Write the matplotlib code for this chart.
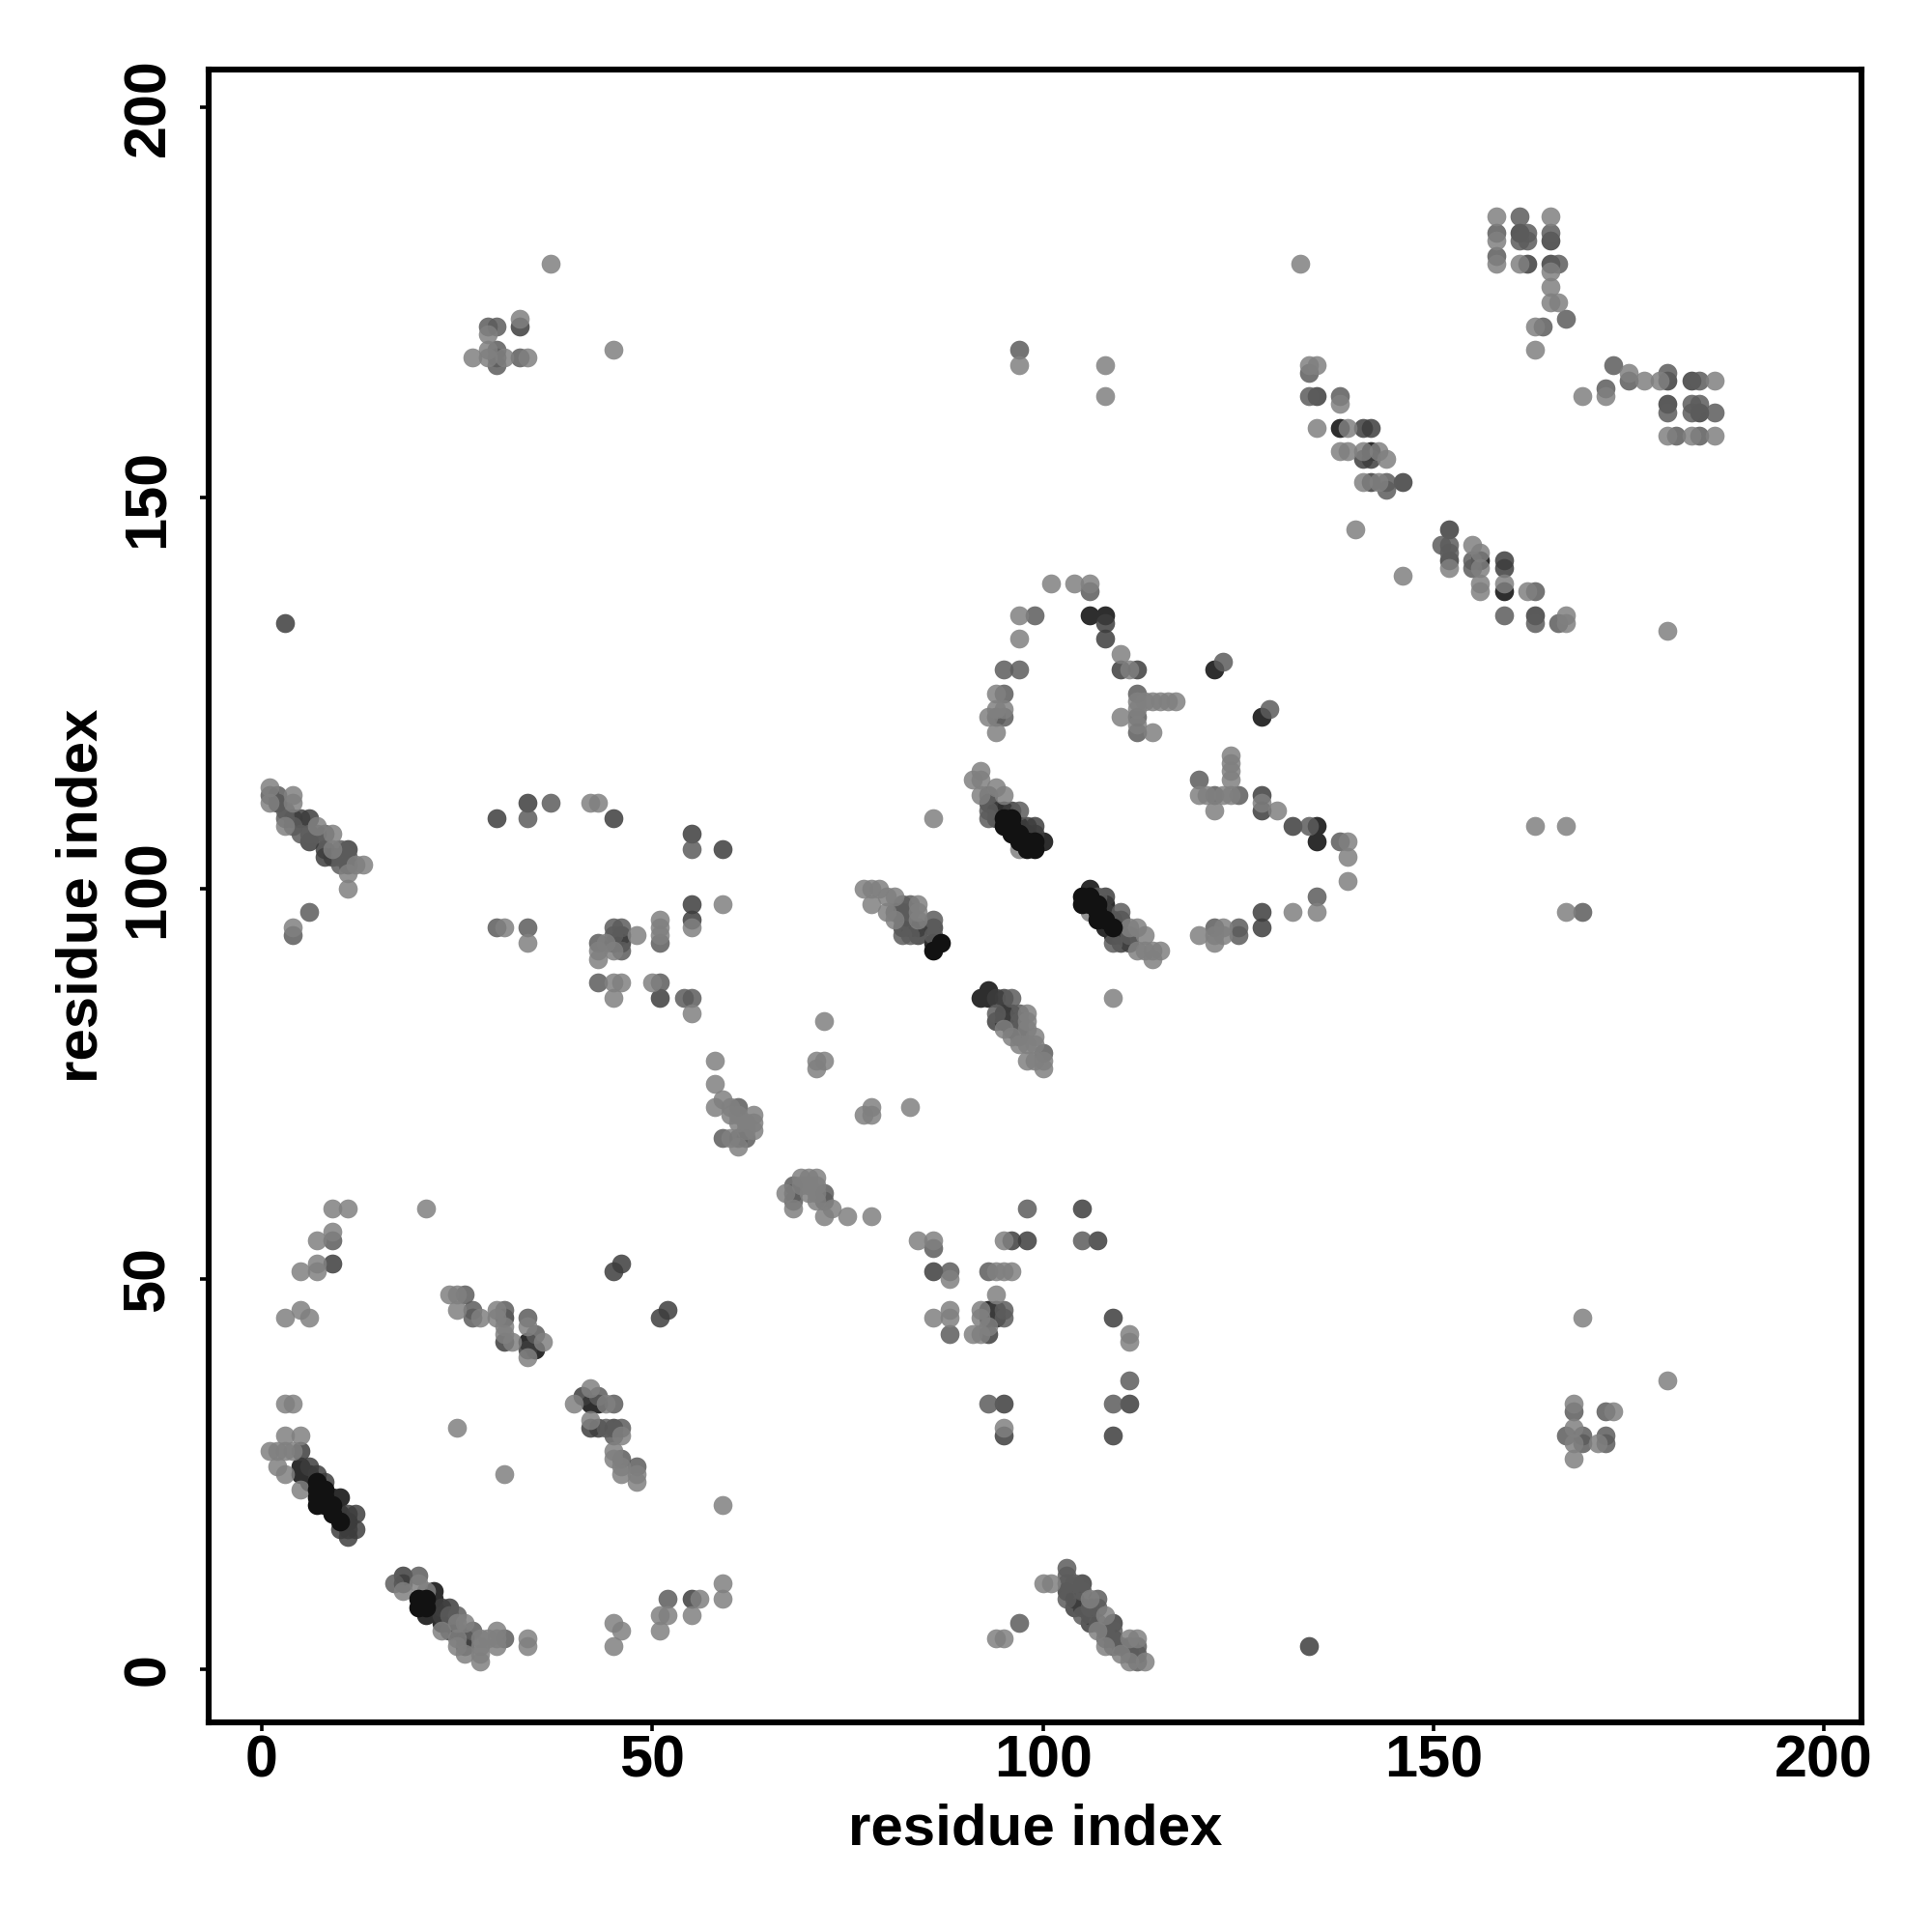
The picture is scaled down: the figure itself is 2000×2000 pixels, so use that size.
import matplotlib
matplotlib.use('Agg')
import matplotlib.pyplot as plt

# contacts (residue i, residue j) grouped by how dark they print
light = [(1,28),(2,28),(3,28),(4,28),(2,26),(3,25),(5,23),(4,34),(3,34),(3,30),(5,30),
         (9,59),(11,59),(21,59),(9,56),(7,55),(7,52),(7,51),(5,51),(5,46),(3,45),(6,45),
         (24,48),(25,48),(25,46),(28,45),(30,46),(30,45),(31,44),(31,43),(32,42),(34,44),(36,42),(34,40),
         (40,34),(42,36),(44,34),(42,32),(46,30),(45,28),(45,27),(46,26),(46,25),(48,25),(48,24),(25,31),(31,25),(59,21),
         (18,10),(20,11),(21,10),(25,6),(26,6),(23,5),(25,4),(25,3),(28,4),(28,3),(28,2),(26,2),(28,1),
         (30,5),(30,4),(30,3),(29,4),(34,4),(34,3),(45,6),(46,5),(45,3),(51,5),(51,7),(52,7),(55,7),(56,9),(59,11),(59,9),
         (42,111),(43,111),(55,95),(31,95),(34,93),(4,95),(43,92),(43,91),(44,93),(45,92),(48,94),(51,96),(51,95),(51,94),
         (45,88),(46,88),(45,86),(50,88),(55,84),(1,113),(1,111),(4,112),(4,111),(3,108),(7,108),(9,107),(9,105),
         (12,103),(13,103),(11,102),(11,100),(59,98),
         (58,78),(58,75),(59,73),(58,72),(60,72),(60,71),(61,71),(63,71),(63,70),(62,70),(61,70),(62,69),(63,69),(60,68),(61,67),
         (77,100),(78,100),(79,100),(78,98),(80,99),(81,99),(80,97),(81,96),(84,98),(84,97),(84,96),
         (91,114),(92,115),(92,114),(92,112),(94,113),(95,112),(97,105),
         (106,97),(111,95),(112,95),(113,94),(112,92),(114,92),(115,92),(114,91),(113,92),
         (95,82),(98,84),(98,83),(98,82),(96,81),(99,81),(97,80),(98,80),(99,80),(98,78),(99,78),(100,78),(100,77),
         (72,83),(71,78),(72,78),(71,77),(78,72),(77,71),(78,71),(83,72),(86,109),(109,86),
         (67,61),(68,59),(69,63),(70,63),(71,63),(69,62),(70,62),(71,62),(70,61),(71,61),(71,60),(73,59),(72,58),(75,58),(78,58),
         (84,55),(86,55),(88,50),(86,45),(88,46),(88,45),(95,55),(94,51),(95,51),(96,51),(94,48),(92,46),(92,45),(93,44),(91,43),(92,43),
         (111,43),(111,42),(95,31),(100,11),(101,11),(106,9),(108,7),(107,5),(108,3),(111,4),(112,4),(110,2),(111,1),(113,1),(94,4),(95,4),
         (101,139),(104,139),(106,139),(97,135),(97,132),(110,130),(111,128),(94,125),(94,123),(95,123),(93,122),(94,120),
         (112,124),(113,124),(114,124),(115,124),(116,124),(117,124),(112,123),(110,122),(112,121),(114,120),
         (124,117),(124,116),(124,115),(124,114),(120,112),(121,112),(123,112),(124,112),(122,110),(128,111),(130,110),(139,106),
         (139,104),(139,101),(135,97),(132,97),(120,94),(123,95),(122,94),(123,94),(122,93),
         (133,180),(158,186),(165,186),(158,183),(158,180),(161,180),(165,179),(165,177),(165,175),(166,175),(163,172),(163,169),
         (134,167),(135,167),(138,162),(135,159),(139,159),(138,156),(139,156),(141,156),(143,156),(144,155),(141,152),(143,152),
         (140,146),(146,140),(152,141),(155,144),(156,143),(156,141),(156,139),(156,138),(159,139),(162,138),(167,135),(167,134),
         (180,133),(175,166),(177,165),(179,165),(186,165),(172,163),(169,163),(180,158),(183,158),(186,158),
         (37,180),(45,169),(33,173),(29,171),(27,168),(29,169),(29,168),(31,168),(34,168),
         (169,45),(180,37),(168,34),(173,33),(168,31),(168,29),(171,29),(168,27),(97,167),(108,167),(108,163),(163,108),(167,108),(167,97)]
medium = [(9,55),(26,48),(27,46),(27,45),(31,46),(34,45),(35,43),(43,35),(45,34),(44,31),(46,31),(45,30),(46,27),(48,26),
          (17,11),(20,12),(24,7),(25,7),(27,5),(31,4),(52,9),(37,111),(34,109),(55,105),(30,95),(34,95),(6,97),(4,94),
          (43,93),(45,95),(46,95),(45,94),(46,92),(43,88),(51,93),(51,88),(54,86),(55,86),(1,112),(2,112),(3,110),(3,109),(4,108),
          (5,107),(6,107),(7,107),(8,107),(10,105),(11,104),(10,104),(10,103),(61,72),(59,68),(61,68),(62,68),
          (81,97),(82,98),(83,98),(83,97),(82,96),(83,94),(82,94),(86,96),(86,94),
          (93,109),(93,110),(93,112),(97,110),(107,99),(110,97),(111,94),(109,93),
          (96,86),(94,84),(97,84),(97,83),(97,82),(97,81),(100,79),(98,59),
          (68,62),(68,61),(68,60),(72,61),(72,60),(86,54),(88,51),(88,43),(93,51),(95,46),(95,45),(111,37),(93,34),(109,34),
          (103,13),(103,12),(103,11),(104,11),(105,10),(103,9),(107,9),(106,8),(105,7),(107,8),(107,6),(108,5),(109,5),(108,4),(109,3),
          (110,3),(111,3),(112,3),(111,2),(112,2),(112,1),(97,6),(105,55),
          (106,138),(99,135),(95,128),(97,128),(95,125),(94,122),(95,122),(112,125),(112,122),(112,120),
          (123,129),(129,123),(120,114),(122,112),(125,112),(134,108),(138,106),(135,99),(122,95),(125,95),(125,94),
          (161,186),(158,184),(161,183),(162,184),(162,183),(165,184),(158,181),(166,180),(167,173),(164,172),(134,166),(134,163),(138,163),
          (144,152),(144,151),(151,144),(152,144),(152,143),(155,142),(155,141),(159,135),(163,138),(163,134),(166,134),
          (173,167),(175,165),(180,166),(184,165),(172,164),(180,161),(183,162),(184,162),(183,161),(186,161),(181,158),(184,158),
          (29,172),(30,172),(30,169),(30,168),(30,167),(33,168),(168,33),(172,33),(167,30),(169,30),(169,29),(172,30),(172,29),(97,169),(169,97)]
dark = [(9,52),(31,45),(31,42),(34,41),(41,35),(42,31),(43,31),(45,31),(45,51),(46,52),(51,45),(52,46),(55,9),
        (18,12),(18,11),(23,8),(24,8),(23,7),(24,5),(25,5),(26,4),(26,3),(5,28),(8,24),(11,20),(12,20),(11,18),(12,18),(11,17),(10,18),(6,26),(7,25),
        (34,111),(45,109),(30,109),(55,107),(59,105),(55,98),(55,96),(46,94),(46,93),(51,86),
        (2,111),(5,109),(6,109),(4,109),(6,106),(8,105),(8,104),(11,105),(11,103),(9,104),
        (82,97),(82,95),(84,95),(84,94),(86,95),
        (93,111),(94,109),(96,110),(98,108),(99,108),(99,107),
        (108,99),(108,97),(109,96),(110,96),(110,94),(110,93),(111,93),
        (94,86),(95,86),(94,83),(96,84),(96,83),(96,82),
        (86,51),(94,46),(96,55),(98,55),(107,55),(105,59),(93,43),(109,45),(95,34),(95,30),(111,34),(109,30),
        (105,11),(103,10),(104,9),(104,8),(105,8),(106,7),(106,6),(109,6),(109,4),
        (108,134),(108,132),(110,128),(112,128),(128,112),(128,110),(132,108),(128,97),(128,95),
        (161,184),(162,180),(165,183),(165,180),(135,163),(141,159),(142,159),(141,155),(142,155),(142,152),(146,152),
        (152,146),(152,142),(159,142),(159,141),(163,135),(180,165),(183,165),(180,162),(184,161),(33,172),(3,134),(134,3)]
darker = [(34,42),(35,41),(42,34),(43,34),(22,10),(22,9),(22,8),(23,6),(24,6),(21,7),(5,26),(5,25),(6,25),(6,24),(9,22),(10,22),(10,20),(11,19),
          (45,93),(83,95),(86,93),(95,110),(94,110),(97,108),(98,107),(100,106),
          (106,100),(108,98),(108,95),(109,94),(92,86),(93,87),(93,86),(95,84),(95,83),(93,46),(94,45),(93,45),
          (106,135),(108,135),(122,128),(128,122),(135,108),(135,106),(138,159),(142,156),(156,142),(159,138)]
black = [(20,9),(21,9),(20,8),(21,8),(7,24),(7,23),(8,23),(8,22),(9,21),(7,22),(7,21),(8,21),(9,20),(10,19),
         (87,93),(86,92),(95,109),(95,108),(96,109),(96,108),(96,107),(97,107),(97,106),(98,106),(99,106),(98,105),(99,105),
         (105,99),(106,99),(105,98),(106,98),(107,98),(107,97),(107,96),(108,96),(109,95)]

# darkest contacts go on last, the rest light over dark
groups = [darker, dark, medium, light, black]
shades = ['#2e2e2e', '#3d3d3d', '#5c5c5c', '#808080', '#121212']
alphas = [1.0, 0.85, 0.85, 0.85, 1.0]

tick_vals = [0, 50, 100, 150, 200]

plt.rcParams['font.family'] = ['Liberation Sans', 'DejaVu Sans']
plt.rcParams['font.weight'] = 'bold'

fig = plt.figure(figsize=(10, 10), dpi=200)
ax = fig.add_axes([216/2000, 1 - 1783/2000, (1927-216)/2000, (1783-72)/2000])

for group, col, a in zip(groups, shades, alphas):
    xs = [p[0] for p in group]
    ys = [p[1] for p in group]
    ax.scatter(xs, ys, s=50, color=col, alpha=a, linewidths=0, zorder=3)

ax.set_xlim(-6.8, 204.8)
ax.set_ylim(-6.77, 204.85)
ax.set_xticks(tick_vals)
ax.set_yticks(tick_vals)
ax.set_xticklabels(tick_vals, fontsize=22, fontweight='bold')
ax.set_yticklabels(tick_vals, fontsize=22, fontweight='bold', rotation=90, va='center')
ax.tick_params(axis='both', length=3.3, width=1.3, color='black')
ax.tick_params(axis='x', pad=1.3)
ax.tick_params(axis='y', pad=8.6)
for s in ax.spines.values():
    s.set_linewidth(2.2)
ax.set_xlabel('residue index', fontsize=21.6, fontweight='bold', labelpad=4.8)
ax.set_ylabel('residue index', fontsize=21.6, fontweight='bold', labelpad=5.0)

plt.savefig('out.png', dpi=200)
plt.close()
